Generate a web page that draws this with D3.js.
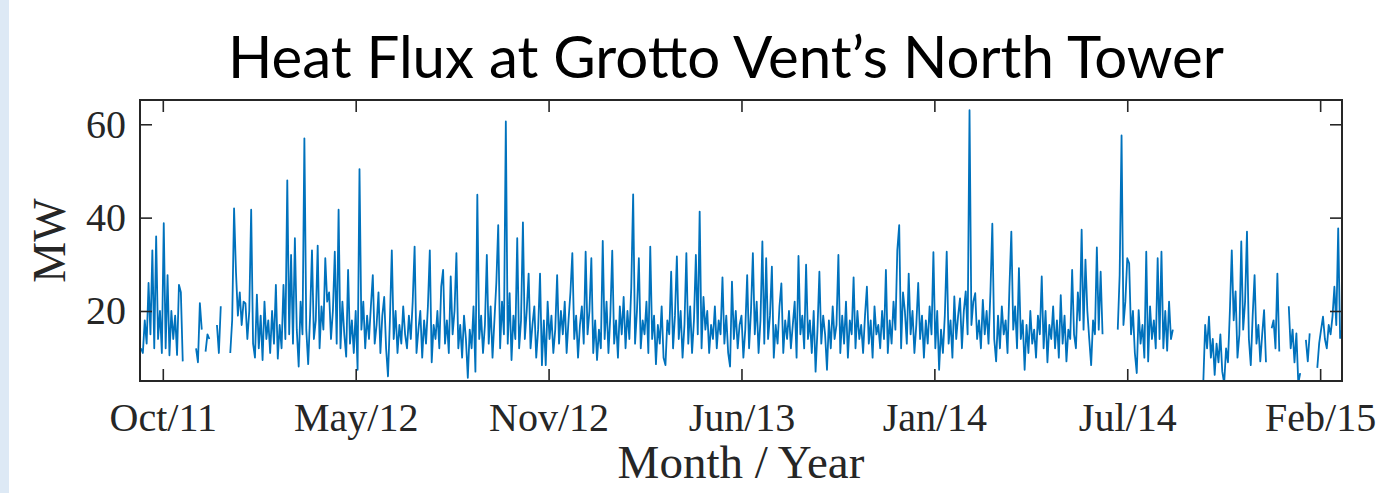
<!DOCTYPE html>
<html>
<head>
<meta charset="utf-8">
<script src="https://cdn.jsdelivr.net/npm/d3@7"></script>
<style>
  html, body { margin: 0; padding: 0; background: #ffffff; }
  svg { display: block; }
</style>
</head>
<body>
<svg id="chart" width="1383" height="493"></svg>
<script>
// Daily-averaged heat flux, sampled every second day starting 21 Sep 2011 (null = no record)
const seriesStart = "2011-09-21";
const stepDays = 2;
const fluxMW = [
  12,11,18,13,26,15,33,12,36,14,20,11,38.8,12,27.7,10.5,20,14,19,10.6,
  25.6,24,9.2,null,null,null,null,null,null,12,9,21.7,16,null,11.3,15,14,null,null,null,
  17,11,21,null,null,null,null,11,18,42,28.4,19,24,17,22,21.6,14,20,41.7,13,
  10,23.5,12,19,9.5,22,14,18,11,20,13,25.6,9.8,17,12,25.6,14,48,15,32,
  13,35.6,16,8.1,22,15,57,16,8.6,19,33,14,18,34,12,21,16,31.3,22,24,
  14,20,32.7,13,41.7,12,22,15,10.2,28.8,13,18,11,20,7.4,50.4,16,22,12,19,
  14,21,27.7,13,17,24,11,19,23,12,6,18,33,14,20,11,17,13,21,15,
  12,19,14,22,33.8,11,16,20,10,18,13,21,33,9,17,14,20,12,25.2,28.8,
  13,18,11,27.4,15,20,32.4,12,17,10,19,14,5.7,16,12,21,7,44.9,14,19,
  11,17,32,13,21,10,18,26,38.4,12,22,15,60.6,13,23.8,9.5,19,14,35.6,12,
  18,39,14,20,28,12,17,21,10,16,28,8.4,18,8.4,22,14,19,11,16,27.7,
  13,20,15,22,11,18,24,32.4,14,19,10,17,21,13,32.7,15,20,31.3,11,18,
  9.5,16,12,35,14,22,11,19,32.9,13,18,10,21,15,23,12,20,14,25,45,
  13,20,31.3,12,18,15,22,11,33.8,14,19,8.6,17,13,21,10,8.4,18,15,28.4,
  12,19,31.7,14,20,10,17,32.4,13,21,11,18,32,15,41.3,12,23,16,20,11,
  17,14,21,12,18,15,27.2,13,19,11,8.1,26.3,14,20,12,17,19,10,16,27.7,
  12,20,32.4,15,22,11,18,34.9,13,31.3,14,19,29.5,10,17,13,21,25.9,11,18,
  14,20,12,17,22,10,31.8,15,19,12,29.9,14,18,11,20,7,16,28.4,13,19,
  15,7.4,18,12,21,14,17,32,11,19,13,22,10,18,15,27.2,12,20,14,17,
  11,19,25.2,13,18,10,21,15,17,12,20,14,28.8,11,18,13,22,16,33,38.4,
  12,24,19.9,13,28,15,20,11,17,26,14,19,10,18,13,21,15,32.6,12,20,
  7.4,16,11,19,32.7,13,18,10,23.1,14,19,22.7,12,20,24.2,15,63,17,22,23.8,
  14,18,12,22.4,15,20,13,24,38.7,14,9.2,19,12,21,15,18,11,25,37,16,
  21,12,29.2,14,18,7.4,17,11,20,13,16,10,19,15,27.4,12,20,9,17,14,
  21,12,18,10,23.4,13,19,9.2,16,14,28.8,15,12,24,18,37.4,16,31,20,14,
  8.4,18,15,33.6,16,28.4,15,null,null,null,null,null,null,null,16,27.7,57.6,17,22,31.3,
  30.2,15,20,11,6.7,20.2,13,17,10,32.7,9.2,21,14,18,12,31.3,14,32.7,12,20,
  11.5,22,14,16,null,null,null,null,null,null,null,null,null,null,null,null,null,null,null,4.5,
  17,12,18.8,10,14,6.3,13,9,15,7,4.5,12,9,20,33,18,24.2,10,15,34.9,
  16,22,37,14,8.4,19,27.7,13,17,9.2,15,20.2,9,null,null,16.3,18,12,28,11.3,
  null,null,null,null,21,12,16,9,15.2,4.5,6.7,null,null,13.8,9.2,15.2,null,null,null,7.8,
  13.1,16,18.8,14,12,17,15,18.8,25.2,17,37.7,14.2,16
];

// Axis extents and ticks
const xDomain = ["2011-09-20", "2015-03-08"];
const yDomain = [5, 65.2];
const yTicks = [20, 40, 60];
const xTickDates = ["2011-10-14", "2012-05-04", "2012-11-23", "2013-06-14", "2014-01-03", "2014-07-25", "2015-02-13"];
const xTickLabels = ["Oct/11", "May/12", "Nov/12", "Jun/13", "Jan/14", "Jul/14", "Feb/15"];

const titleText = "Heat Flux at Grotto Vent\u2019s North Tower";
const xLabelText = "Month / Year";
const yLabelText = "MW";

const parse = d3.utcParse("%Y-%m-%d");
const t0 = parse(seriesStart);
const points = fluxMW.map((v, i) => ({ date: d3.utcDay.offset(t0, i * stepDays), v }));

const plot = { left: 140, right: 1342, top: 100, bottom: 381 };
const axisColor = "#262626";
const lineColor = "#0072BD";
const serif = "'Liberation Serif', 'Times New Roman', serif";

const svg = d3.select("#chart");

// page background with the pale strip down the left edge
svg.append("rect").attr("width", 1383).attr("height", 493).attr("fill", "#ffffff");
svg.append("rect").attr("x", 0).attr("y", 0).attr("width", 9).attr("height", 493).attr("fill", "#dde9f5");

const x = d3.scaleUtc().domain(xDomain.map(parse)).range([plot.left, plot.right]);
const y = d3.scaleLinear().domain(yDomain).range([plot.bottom, plot.top]);

// title
svg.append("text")
  .attr("x", 726).attr("y", 78)
  .attr("text-anchor", "middle")
  .attr("font-family", "Lato, 'Open Sans', sans-serif")
  .attr("font-size", 59)
  .attr("textLength", 996)
  .attr("lengthAdjust", "spacingAndGlyphs")
  .attr("fill", "#000")
  .text(titleText);

// clip for the series
svg.append("clipPath").attr("id", "plotClip")
  .append("rect")
  .attr("x", plot.left).attr("y", plot.top)
  .attr("width", plot.right - plot.left).attr("height", plot.bottom - plot.top);

const line = d3.line()
  .defined(d => d.v != null)
  .x(d => x(d.date))
  .y(d => y(d.v));

svg.append("path")
  .datum(points)
  .attr("clip-path", "url(#plotClip)")
  .attr("fill", "none")
  .attr("stroke", lineColor)
  .attr("stroke-width", 1.8)
  .attr("stroke-linejoin", "round")
  .attr("d", line);

// axes with inward ticks on all four sides
const tickDates = xTickDates.map(parse);
const styleAxis = g => {
  g.select(".domain").remove();
  g.selectAll(".tick line").attr("stroke", axisColor).attr("stroke-width", 1.6);
  g.selectAll(".tick text").attr("fill", axisColor).attr("font-family", serif).attr("font-size", 40);
};

svg.append("g").attr("transform", `translate(${plot.left},0)`)
  .call(d3.axisLeft(y).tickValues(yTicks).tickSizeInner(-12).tickSizeOuter(0).tickPadding(14))
  .call(styleAxis);

svg.append("g").attr("transform", `translate(${plot.right},0)`)
  .call(d3.axisRight(y).tickValues(yTicks).tickSizeInner(-12).tickSizeOuter(0).tickFormat(""))
  .call(styleAxis);

svg.append("g").attr("transform", `translate(0,${plot.bottom})`)
  .call(d3.axisBottom(x).tickValues(tickDates).tickFormat((d, i) => xTickLabels[i])
    .tickSizeInner(-12).tickSizeOuter(0).tickPadding(22))
  .call(styleAxis);

svg.append("g").attr("transform", `translate(0,${plot.top})`)
  .call(d3.axisTop(x).tickValues(tickDates).tickFormat("").tickSizeInner(-12).tickSizeOuter(0))
  .call(styleAxis);

// axes frame
svg.append("rect")
  .attr("x", plot.left).attr("y", plot.top)
  .attr("width", plot.right - plot.left).attr("height", plot.bottom - plot.top)
  .attr("fill", "none").attr("stroke", axisColor).attr("stroke-width", 2);

// axis labels
svg.append("text")
  .attr("x", (plot.left + plot.right) / 2).attr("y", 478)
  .attr("text-anchor", "middle")
  .attr("font-family", serif).attr("font-size", 47).attr("fill", axisColor)
  .text(xLabelText);

svg.append("text")
  .attr("transform", `translate(65,${(plot.top + plot.bottom) / 2}) rotate(-90)`)
  .attr("text-anchor", "middle")
  .attr("font-family", serif).attr("font-size", 46).attr("fill", axisColor)
  .text(yLabelText);
</script>
</body>
</html>
